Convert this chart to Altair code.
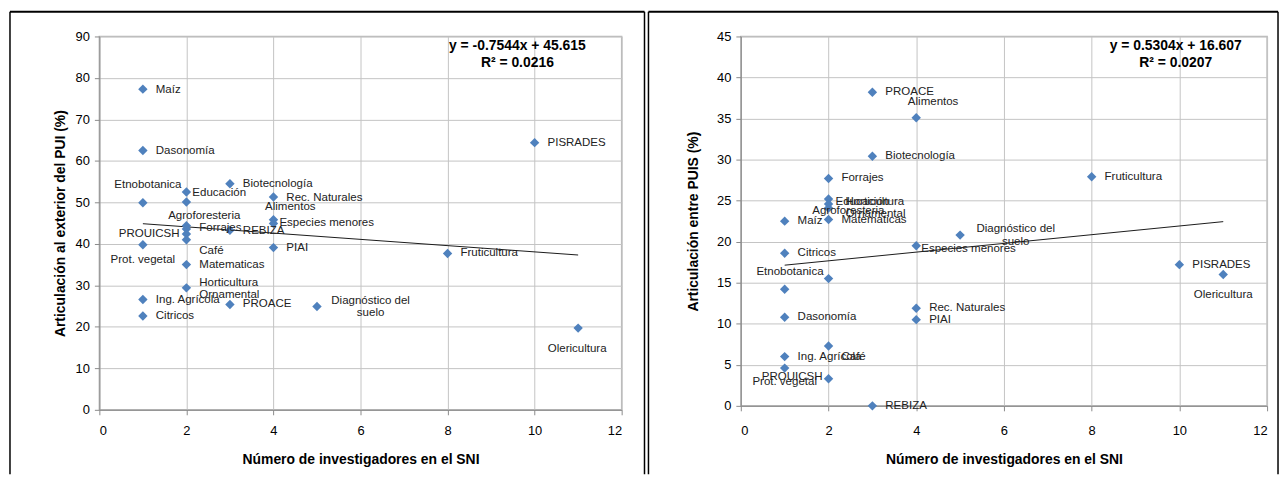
import altair as alt
import pandas as pd

# ---------------- data ----------------
programs = [
    "Maíz", "Dasonomía", "", "Etnobotanica", "Educación", "Biotecnología",
    "Rec. Naturales", "Alimentos", "Especies menores", "Agroforesteria",
    "Forrajes", "REBIZA", "PROUICSH", "Café", "Prot. vegetal", "PIAI",
    "Matematicas", "Horticultura\nOrnamental", "Ing. Agrícola", "Citricos",
    "PROACE", "Diagnóstico del\nsuelo", "Fruticultura", "PISRADES", "Olericultura",
]
sni = [1, 1, 1, 2, 2, 3, 4, 4, 4, 2, 2, 3, 2, 2, 1, 4, 2, 2, 1, 1, 3, 5, 8, 10, 11]
art_exterior = [77.3, 62.5, 49.9, 52.5, 50.1, 54.5, 51.3, 45.8, 44.9, 44.4,
                43.6, 43.3, 42.4, 41.0, 39.8, 39.1, 35.0, 29.4, 26.6, 22.6,
                25.4, 24.9, 37.7, 64.4, 19.7]
art_puis = [22.5, 10.8, 14.2, 15.5, 25.2, 30.4, 11.9, 35.1, 19.5, 24.1,
            27.7, 0.0, 3.3, 7.3, 4.6, 10.5, 22.7, 24.6, 6.0, 18.6,
            38.2, 20.8, 27.9, 17.2, 16.0]

x_ticks = [0, 2, 4, 6, 8, 10, 12]
y_ticks_left = [0, 10, 20, 30, 40, 50, 60, 70, 80, 90]
y_ticks_right = [0, 5, 10, 15, 20, 25, 30, 35, 40, 45]

trend_left = {"slope": -0.7544, "intercept": 45.615, "r2": "0.0216"}
trend_right = {"slope": 0.5304, "intercept": 16.607, "r2": "0.0207"}
trend_x = [1, 11]

# ---------------- label placement (style) ----------------
# index -> (dx, dy, align)
place_left = {
    0: (13, 1, "left"), 1: (13, 0, "left"), 3: (-5, -7, "right"),
    4: (6, -9, "left"), 5: (13, 0, "left"), 6: (13, 1, "left"),
    7: (17, -13, "center"), 8: (6, -1, "left"), 9: (18, -10, "center"),
    10: (13, -1, "left"), 11: (13, 1, "left"), 12: (-7, 0, "right"),
    13: (13, 11, "left"), 14: (0, 15, "center"), 15: (13, 0, "left"),
    16: (13, 0, "left"), 17: (13, -5, "left"), 18: (13, 1, "left"),
    19: (13, 0, "left"), 20: (13, 0, "left"), 21: (54, -6, "center"),
    22: (13, 0, "left"), 23: (13, 0, "left"), 24: (-1, 21, "center"),
}
place_right = {
    0: (13, 0, "left"), 1: (13, 0, "left"), 3: (-5, -7, "right"),
    4: (7, 3, "left"), 5: (13, 0, "left"), 6: (13, 0, "left"),
    7: (17, -16, "center"), 8: (5, 3, "left"), 9: (20, 3, "center"),
    10: (13, 0, "left"), 11: (13, 0, "left"), 12: (-6, -2, "right"),
    13: (13, 11, "left"), 14: (0, 14, "center"), 15: (13, 0, "left"),
    16: (13, 1, "left"), 17: (17, -2, "left"), 18: (13, 0, "left"),
    19: (13, 0, "left"), 20: (13, 0, "left"), 21: (56, -6, "center"),
    22: (13, 0, "left"), 23: (13, 0, "left"), 24: (0, 21, "center"),
}

FONT = "Liberation Sans"
BLUE = "#4F81BD"


def fmt_eq(t):
    sign = "+" if t["intercept"] >= 0 else "-"
    return f"y = {t['slope']}x {sign} {abs(t['intercept'])}", f"R² = {t['r2']}"


def panel(yvals, ytitle, ydomain, yticks, width, height, places, trend,
          eq_x, y_title_pad, x_label_pad, frame):
    df = pd.DataFrame({"idx": list(range(len(programs))), "name": programs,
                       "sni": sni, "y": yvals})
    xenc = alt.X("sni:Q", scale=alt.Scale(domain=[0, 12], nice=False, zero=False),
                 axis=alt.Axis(values=x_ticks, title="Número de investigadores en el SNI",
                               labelPadding=x_label_pad, titlePadding=15))
    yenc = alt.Y("y:Q", scale=alt.Scale(domain=ydomain, nice=False, zero=False),
                 axis=alt.Axis(values=yticks, title=ytitle, titlePadding=y_title_pad,
                               labelPadding=5))
    base = alt.Chart(df)
    pts = base.mark_point(shape="diamond", filled=True, size=90, color=BLUE,
                          opacity=1).encode(x=xenc, y=yenc)

    tdf = pd.DataFrame({"sni": trend_x})
    trendline = alt.Chart(tdf).transform_calculate(
        y=f"{trend['slope']} * datum.sni + {trend['intercept']}"
    ).mark_line(color="#1a1a1a", strokeWidth=1).encode(x="sni:Q", y="y:Q")

    layers = [trendline, pts]
    for i, (dx, dy, al) in places.items():
        layers.append(
            base.transform_filter(f"datum.idx == {i}").mark_text(
                align=al, baseline="middle", dx=dx, dy=dy, fontSize=11.6, font=FONT,
                color="#222222", lineBreak="\n", lineHeight=12.5,
            ).encode(x="sni:Q", y="y:Q", text="name:N")
        )

    one = pd.DataFrame({"a": [0]})
    l1, l2 = fmt_eq(trend)
    for txt, yy in ((l1, 10), (l2, 26.7)):
        layers.append(
            alt.Chart(one).mark_text(align="center", baseline="middle", fontSize=14,
                                     fontWeight="bold", font=FONT, color="black")
            .encode(x=alt.value(eq_x), y=alt.value(yy), text=alt.value(txt))
        )

    fx1, fx2, fy1, fy2 = frame
    layers.append(alt.Chart(one).mark_rule(color="black", strokeWidth=2).encode(
        x=alt.value(fx1), x2=alt.value(fx2), y=alt.value(fy1)))
    for fx in (fx1, fx2):
        layers.append(alt.Chart(one).mark_rule(color="black", strokeWidth=1.5).encode(
            x=alt.value(fx), y=alt.value(fy1), y2=alt.value(fy2)))

    return alt.layer(*layers).properties(width=width, height=height)


left = panel(art_exterior, "Articulación al exterior del PUI (%)", [0, 90], y_ticks_left,
             526, 376, place_left, trend_left, 421, 8, 10, (-90, 549, -25, 441))
right = panel(art_puis, "Articulación entre PUIS (%)", [0, 45], y_ticks_right,
              530, 372, place_right, trend_right, 438, 16, 14, (-93, 541, -25, 441))

chart = alt.hconcat(left, right, spacing=0).properties(padding=0).configure_view(
    stroke="#b8b8b8", strokeWidth=1.5
).configure_axis(
    gridColor="#c4c4c4", gridWidth=1, domainColor="#8a8a8a", tickColor="#8a8a8a",
    tickSize=5, labelFont=FONT, labelFontSize=13, labelColor="black",
    titleFont=FONT, titleFontSize=14, titleFontWeight="bold", titleColor="black",
)

chart.save("out.html", embed_options={"renderer": "svg", "actions": False})
